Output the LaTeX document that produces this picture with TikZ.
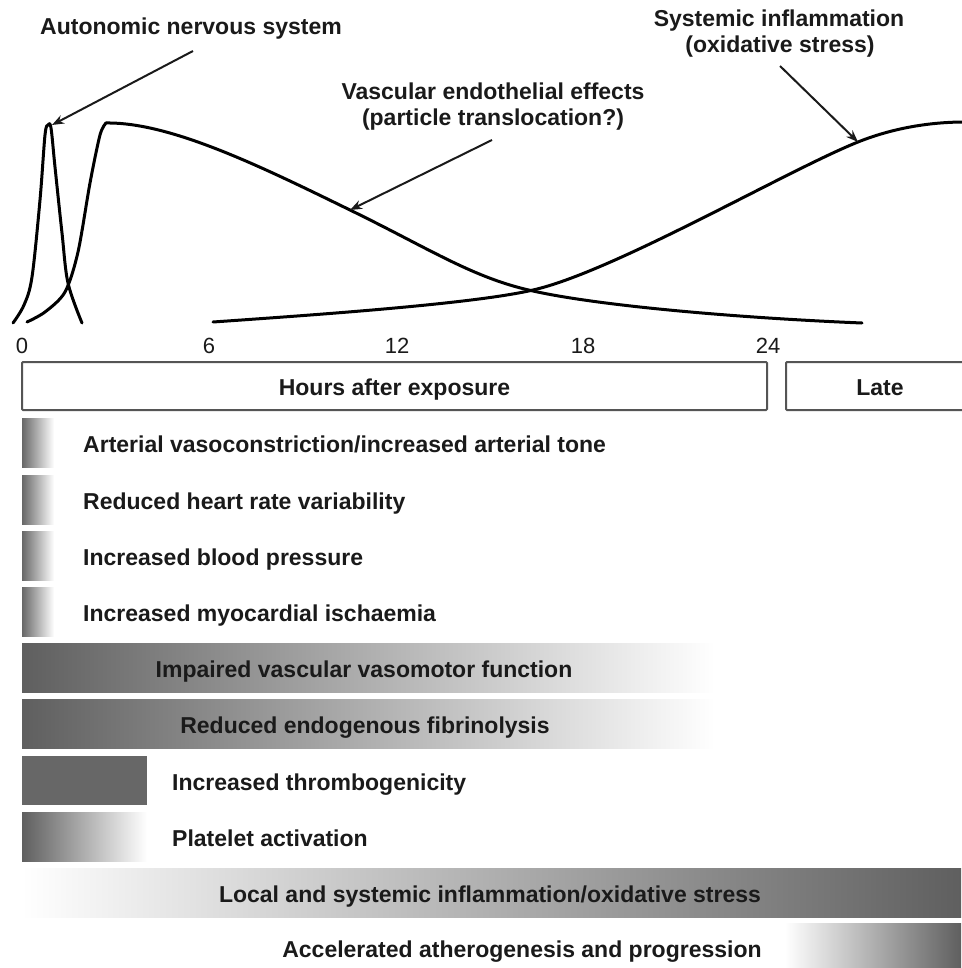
\documentclass[tikz,border=0pt]{standalone}
\usepackage{fontspec}
\setmainfont{Liberation Sans}
\usetikzlibrary{arrows.meta}
\definecolor{ink}{HTML}{1A1A1A}
\definecolor{barDark}{HTML}{5F5F5F}
\definecolor{boxgray}{HTML}{555555}
\tikzset{
  lbl/.style={font=\bfseries\fontsize{23}{26}\selectfont, text=ink, inner sep=0pt, anchor=base},
  lblw/.style={lbl, anchor=base west},
  ticklbl/.style={font=\fontsize{22}{24}\selectfont, text=ink, inner sep=0pt, anchor=base},
  curve/.style={line width=3pt, draw=black, line cap=round, line join=round},
  pointer/.style={line width=2pt, draw=ink, -{Stealth[length=12pt,width=9pt]}},
  hbox/.style={draw=boxgray, line width=2pt, rounded corners=1pt, fill=white},
}
\begin{document}
\begin{tikzpicture}[x=1pt,y=-1pt]
\useasboundingbox (0,0) rectangle (961,968);
\fill[white] (0,0) rectangle (961,968);

% ---- curves ----
% autonomic nervous system peak
\draw[curve] plot[smooth, tension=0.55] coordinates {(13,323) (24,305) (32,277) (40,200) (45,135) (48,125) (51,128) (55,167) (62,233) (68,283) (82,323)};
% vascular endothelial effects
\draw[curve] plot[smooth, tension=0.5] coordinates {(27,322) (45,312) (65,292) (78,252) (90,183) (100,135) (106,123)};
\draw[curve] (106,123) .. controls (170,122) and (260,166) .. (350,210)
  .. controls (430,249) and (473,278) .. (533,291)
  .. controls (600,306) and (740,318) .. (862,323);
% systemic inflammation
\draw[curve] (213,322) .. controls (313,315) and (473,304) .. (533,290)
  .. controls (613,272) and (788,170) .. (858,142)
  .. controls (893,128) and (930,122) .. (965,122);

% ---- top labels ----
\node[lbl] (ans) at (191,35) {Autonomic nervous system};
\node[lbl] (vasc1) at (493,100) {Vascular endothelial effects};
\node[lbl] (vasc2) at (493,126) {(particle translocation?)};
\node[lbl] (sys1) at (779,27) {Systemic inflammation};
\node[lbl] (sys2) at (780,53) {(oxidative stress)};

\coordinate (ansFrom) at (193,51);
\coordinate (ansTip) at (52,125);
\coordinate (vascFrom) at (492,140);
\coordinate (vascTip) at (350,210);
\coordinate (sysFrom) at (780,66);
\coordinate (sysTip) at (858,142);
\draw[pointer] (ansFrom) -- (ansTip);
\draw[pointer] (vascFrom) -- (vascTip);
\draw[pointer] (sysFrom) -- (sysTip);

% ---- ticks ----
\node[ticklbl] (t0) at (22,353) {0};
\node[ticklbl] (t6) at (209,353) {6};
\node[ticklbl] (t12) at (397,353) {12};
\node[ticklbl] (t18) at (583,353) {18};
\node[ticklbl] (t24) at (768,353) {24};

% ---- header boxes ----
\draw[hbox] (22,362) rectangle (767,410);
\node[lbl] (hours) at (394.5,395) {Hours after exposure};
\draw[hbox] (786,362) rectangle (976,410);
\node[lbl] (late) at (880,395) {Late};

% ---- bars ----
\shade[left color=barDark!95, right color=white] (22,418) rectangle (54,467);
\shade[left color=barDark!95, right color=white] (22,475) rectangle (54,524);
\shade[left color=barDark!95, right color=white] (22,531) rectangle (54,580);
\shade[left color=barDark!95, right color=white] (22,587) rectangle (54,636);
\shade[left color=barDark, right color=white] (22,643) rectangle (715,692);
\shade[left color=barDark, right color=white] (22,699) rectangle (715,748);
\fill[barDark!95] (22,756) rectangle (147,805);
\shade[left color=barDark, right color=white] (22,812) rectangle (147,861);
\shade[left color=white, right color=barDark] (22,868) rectangle (961,917);
\shade[left color=white, right color=barDark] (785,923) rectangle (961,972);

% ---- row labels ----
\node[lblw] (r1) at (83,452) {Arterial vasoconstriction/increased arterial tone};
\node[lblw] (r2) at (83,509) {Reduced heart rate variability};
\node[lblw] (r3) at (83,565) {Increased blood pressure};
\node[lblw] (r4) at (83,621) {Increased myocardial ischaemia};
\node[lbl] (r5) at (364,677) {Impaired vascular vasomotor function};
\node[lbl] (r6) at (365,733) {Reduced endogenous fibrinolysis};
\node[lblw] (r7) at (172,790) {Increased thrombogenicity};
\node[lblw] (r8) at (172,846) {Platelet activation};
\node[lbl] (r9) at (490,902) {Local and systemic inflammation/oxidative stress};
\node[lbl] (r10) at (522,957) {Accelerated atherogenesis and progression};
\end{tikzpicture}
\end{document}
